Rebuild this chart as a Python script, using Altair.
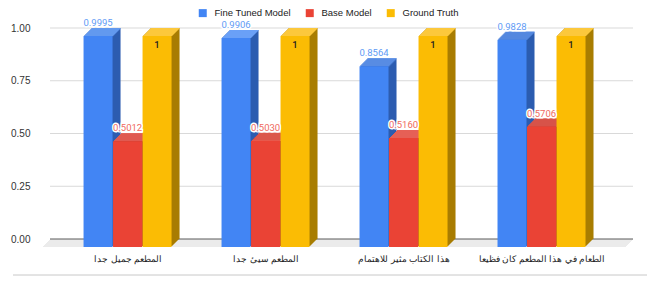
import json
import altair as alt
import pandas as pd

# ---------------- data ----------------
categories = [
    "المطعم جميل جدا",
    "المطعم سيئ جدا",
    "هذا الكتاب مثير للاهتمام",
    "الطعام في هذا المطعم كان فظيعا",
]
series_names = ["Fine Tuned Model", "Base Model", "Ground Truth"]
fine_tuned = [0.9995, 0.9906, 0.8564, 0.9828]
base_model = [0.5012, 0.5030, 0.5160, 0.5706]
ground_truth = [1, 1, 1, 1]
y_ticks = [0, 0.25, 0.5, 0.75, 1.0]

# ---------------- styles ----------------
FRONT = ["#4285F4", "#EA4335", "#FBBC04"]
SIDE = ["#2c5cb0", "#b1342b", "#a87d02"]
TOP = ["#6aa0f7", "#ee675d", "#fcc83c"]
LABEL = ["#5f9bf5", "#f06a60", "#222222"]
DEPTH = 8
BAR_W = 29
BAR_STEP = 0.2138
D0, D1 = -0.62, 3.663

rows = []
for g, cat in enumerate(categories):
    for s, vals in enumerate([fine_tuned, base_model, ground_truth]):
        rows.append({"category": cat, "g": g, "s": s,
                     "series": series_names[s], "value": vals[g]})
df = pd.DataFrame(rows)

XSCALE = alt.Scale(domain=[D0, D1], nice=False, zero=False)
YSCALE = alt.Scale(domain=[0, 1], nice=False, zero=False)
XAXIS = alt.Axis(values=[0, 1, 2, 3],
                 labelExpr=json.dumps(categories, ensure_ascii=False) + "[datum.value]",
                 title=None, domain=False, ticks=False, grid=False,
                 labelPadding=15, labelFontSize=8.5, labelColor="#222222",
                 labelFont="Arial")
YAXIS = alt.Axis(values=y_ticks, format=".2f", title=None, domain=False,
                 ticks=False, grid=False, labelPadding=7, labelFontSize=10,
                 labelColor="#333333", labelFont="Arial")

X = alt.X("pos:Q", scale=XSCALE, axis=XAXIS)
Y = alt.Y("value:Q", scale=YSCALE, axis=YAXIS, stack=None)
XD0 = alt.XDatum(datum=D0, type="quantitative", scale=XSCALE, axis=XAXIS)
XD1 = alt.X2Datum(datum=D1)
YD0 = alt.YDatum(datum=0, type="quantitative", scale=YSCALE, axis=YAXIS)

base = alt.Chart(df).transform_calculate(
    pos=f"datum.g + (datum.s - 1) * {BAR_STEP}",
    side_color=json.dumps(SIDE) + "[datum.s]",
    top_color=json.dumps(TOP) + "[datum.s]",
    label_color=json.dumps(LABEL) + "[datum.s]",
    label="datum.value == 1 ? '1' : format(datum.value, '.4f')",
)

single = alt.Chart(pd.DataFrame({"z": [0]}))

layers = []

# floor (slanted)
for k in range(DEPTH):
    layers.append(single.mark_rect(color="#ebebeb", xOffset=DEPTH - k, x2Offset=-k,
                                   yOffset=k, y2Offset=k + 1).encode(
        x=XD0, x2=XD1, y=YD0, y2=alt.datum(0)))

# gridlines
grid_df = pd.DataFrame({"v": y_ticks[1:]})
layers.append(alt.Chart(grid_df).mark_rule(color="#d9d9d9", xOffset=DEPTH).encode(
    x=XD0, x2=XD1, y=alt.Y("v:Q", scale=YSCALE, axis=YAXIS)))
# base line
layers.append(single.mark_rule(color="#5a5a5a", xOffset=DEPTH).encode(
    x=XD0, x2=XD1, y=YD0))

# 3D depth of the bars
for i in range(DEPTH, 0, -1):
    layers.append(base.mark_bar(width=BAR_W, xOffset=i, yOffset=DEPTH - i,
                                y2Offset=DEPTH - i).encode(
        x=X, y=Y, y2=alt.datum(0), fill=alt.Fill("side_color:N", scale=None)))
    layers.append(base.mark_bar(width=BAR_W, xOffset=i, yOffset=DEPTH - i,
                                y2Offset=DEPTH - i + 1).encode(
        x=X, y=Y, y2=alt.Y2("value:Q"), fill=alt.Fill("top_color:N", scale=None)))

# front faces
layers.append(base.mark_bar(width=BAR_W, yOffset=DEPTH, y2Offset=DEPTH).encode(
    x=X, y=Y, y2=alt.datum(0),
    color=alt.Color("series:N", scale=alt.Scale(domain=series_names, range=FRONT),
                    legend=alt.Legend(orient="none", legendX=161, legendY=-20,
                                      direction="horizontal", title=None,
                                      symbolType="square", symbolSize=64,
                                      symbolStrokeWidth=0, labelFont="Arial",
                                      labelFontSize=9.5, labelColor="#222222",
                                      labelOffset=7, columnPadding=14, padding=0)),
))

# value labels
above = base.transform_filter("datum.s < 2")
layers.append(above.mark_text(baseline="alphabetic", dy=-2, font="Roboto", fontSize=9.5,
                              fill="white", stroke="white", strokeWidth=3).encode(
    x=X, y=Y, text="label:N"))
layers.append(above.mark_text(baseline="alphabetic", dy=-2, font="Roboto", fontSize=9.5).encode(
    x=X, y=Y, text="label:N", fill=alt.Fill("label_color:N", scale=None)))
inside = base.transform_filter("datum.s == 2")
layers.append(inside.mark_text(baseline="alphabetic", dy=20, font="Roboto", fontSize=9.5,
                               fontWeight=500, fill="#222222").encode(
    x=X, y=Y, text="label:N"))

# bottom border line
layers.append(single.mark_rule(color="#c8c8c8", xOffset=-29, x2Offset=14,
                               yOffset=36, y2Offset=36).encode(
    x=XD0, x2=XD1, y=YD0))

chart = alt.layer(*layers).properties(
    width=601, height=211,
    padding={"left": 29, "top": 20, "right": 19, "bottom": 38},
    autosize=alt.AutoSizeParams(type="none"),
).configure_view(stroke=None)

chart.save("out.html", embed_options={"renderer": "svg", "actions": False})
